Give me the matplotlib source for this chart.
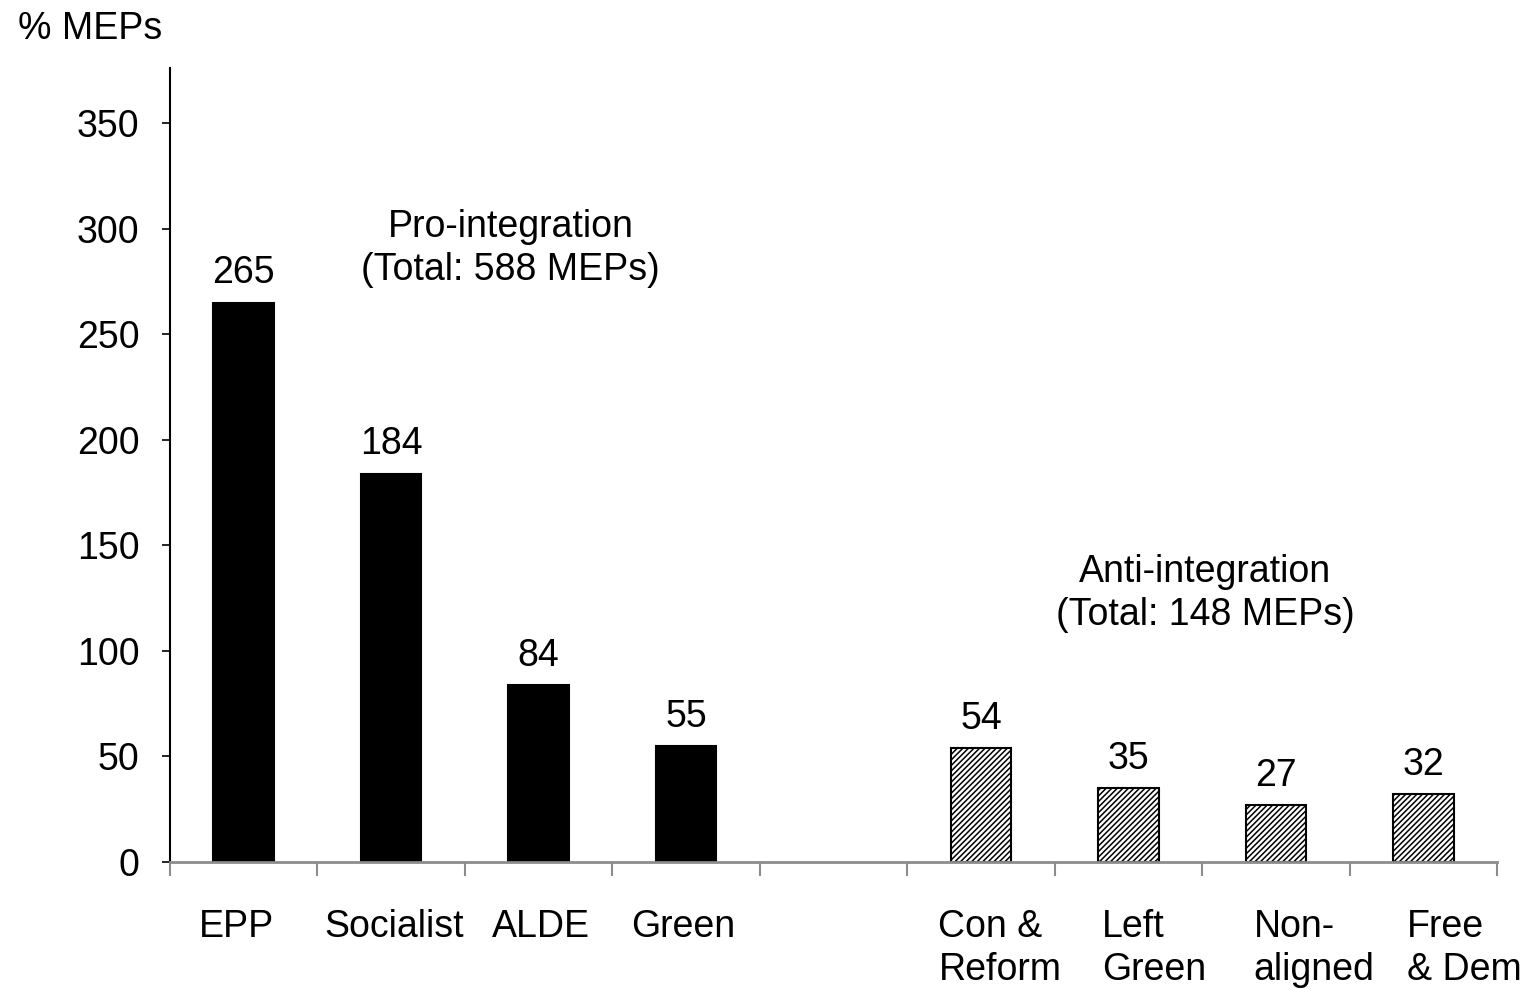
import numpy as np
import matplotlib.transforms as mtransforms
from matplotlib import pyplot as plt

plt.rcParams['font.family'] = ['Liberation Sans', 'DejaVu Sans']
plt.rcParams['hatch.linewidth'] = 1.1

PARTIES = ['EPP', 'Socialist', 'ALDE', 'Green', '',
           'Con &\nReform', 'Left\nGreen', 'Non-\naligned', 'Free\n& Dem']
PRO_SEATS = [265, 184, 84, 55]
ANTI_SEATS = [54, 35, 27, 32]
Y_TICKS = [0, 50, 100, 150, 200, 250, 300, 350]
PRO_LABEL = 'Pro-integration\n(Total: 588 MEPs)'
ANTI_LABEL = 'Anti-integration\n(Total: 148 MEPs)'

# horizontal nudge of each category label (pixels), as placed in the original
LABEL_SHIFT = [-7, 3, 2, -3, 0, 19, 26, 38, 41]

FONT_SIZE = 27
GRAY = '#8c8c8c'


def main():
    figure = plt.figure(figsize=(15.26, 9.89), dpi=100)
    axis = figure.add_axes([0.1114, 0.1284, 0.8696, 0.8026])

    pro_x = np.arange(len(PRO_SEATS))
    anti_x = np.arange(len(ANTI_SEATS)) + len(PRO_SEATS) + 1

    pro_bars = axis.bar(pro_x, PRO_SEATS, width=0.41, color='black',
                        edgecolor='black', linewidth=1.5)
    anti_bars = axis.bar(anti_x, ANTI_SEATS, width=0.41, color='white',
                         edgecolor='black', linewidth=1.5, hatch='//////')

    axis.bar_label(pro_bars, padding=8, fontsize=FONT_SIZE)
    axis.bar_label(anti_bars, padding=8, fontsize=FONT_SIZE)

    axis.text(1.81, 290.5, PRO_LABEL, ha='center', va='center',
              fontsize=FONT_SIZE, linespacing=1.25)
    axis.text(6.52, 127, ANTI_LABEL, ha='center', va='center',
              fontsize=FONT_SIZE, linespacing=1.25)

    axis.set_xlim(-0.5, len(PARTIES) - 0.5)
    axis.set_ylim(0, 376)
    axis.set_yticks(Y_TICKS)
    axis.tick_params(axis='y', labelsize=FONT_SIZE, length=6, width=1.2,
                     pad=16, color='black')

    axis.set_xticks(np.arange(len(PARTIES)))
    axis.set_xticks(np.arange(len(PARTIES) + 1) - 0.5, minor=True)
    axis.tick_params(axis='x', which='major', length=0, pad=34)
    axis.tick_params(axis='x', which='minor', length=10, width=1.5,
                     color=GRAY)
    axis.set_xticklabels(PARTIES, fontsize=FONT_SIZE, va='top',
                         multialignment='left', linespacing=1.25)

    for label, shift in zip(axis.get_xticklabels(), LABEL_SHIFT):
        offset = mtransforms.ScaledTranslation(shift / 100, 0,
                                               figure.dpi_scale_trans)
        label.set_transform(label.get_transform() + offset)

    for side in ['top', 'right']:
        axis.spines[side].set_visible(False)
    axis.spines['bottom'].set_color(GRAY)
    axis.spines['bottom'].set_linewidth(2)
    axis.spines['left'].set_color('black')
    axis.spines['left'].set_linewidth(1.5)

    figure.text(0.012, 0.971, '% MEPs', fontsize=FONT_SIZE,
                ha='left', va='center')

    figure.savefig('out.png', dpi=100)


if __name__ == "__main__":
    main()
